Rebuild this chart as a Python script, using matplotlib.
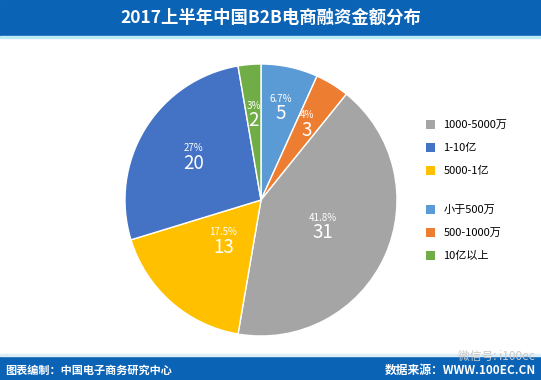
import numpy as np
import matplotlib
matplotlib.use("Agg")
import matplotlib.pyplot as plt
from matplotlib.patches import Rectangle

plt.rcParams['font.family'] = ['Noto Sans CJK SC', 'DejaVu Sans']

# 数据（顺时针，从12点方向开始）
categories = ['小于500万', '500-1000万', '1000-5000万', '5000-1亿', '1-10亿', '10亿以上']
counts = [5, 3, 31, 13, 20, 2]
pct_labels = ['6.7%', '4%', '41.8%', '17.5%', '27%', '3%']
colors = ['#5B9BD5', '#ED7D31', '#A5A5A5', '#FFC000', '#4472C4', '#70AD47']
label_r = [0.68, 0.64, 0.50, 0.42, 0.58, 0.62]
legend_order = [2, 4, 3, 0, 1, 5]

fig = plt.figure(figsize=(5.41, 3.80), dpi=100)

# 顶部标题栏
fig.patches.append(Rectangle((0, 1 - 36 / 380), 1, 36 / 380, transform=fig.transFigure,
                             color='#0B63B6', zorder=0))
fig.patches.append(Rectangle((0, 1 - 38 / 380), 1, 2 / 380, transform=fig.transFigure,
                             color='#BDEBF5', zorder=0))
fig.text(0.5, 1 - 18 / 380, '2017上半年中国B2B电商融资金额分布', color='white',
         fontsize=12.5, fontweight='bold', ha='center', va='center')

# 底部栏
fig.patches.append(Rectangle((0, 0), 1, 24 / 380, transform=fig.transFigure,
                             color='#0B63B6', zorder=0))
fig.patches.append(Rectangle((0, 24 / 380), 1, 2 / 380, transform=fig.transFigure,
                             color='#DDEEF8', zorder=0))
fig.text(5 / 541, 10 / 380, '图表编制：中国电子商务研究中心', color='white',
         fontsize=8, fontweight='bold', ha='left', va='center')
fig.text(536 / 541, 10 / 380, '数据来源：WWW.100EC.CN', color='white',
         fontsize=8.5, fontweight='bold', ha='right', va='center')
fig.text(535 / 541, 24 / 380, '微信号: i100ec', color='#C8C8C8',
         fontsize=8.5, ha='right', va='center')

# 饼图
ax = fig.add_axes([125 / 541, 44 / 380, 272 / 541, 272 / 380])
wedges, _ = ax.pie(counts, colors=colors, startangle=90, counterclock=False,
                   radius=1.0, wedgeprops=dict(edgecolor='white', linewidth=1))
ax.set_xlim(-1, 1)
ax.set_ylim(-1, 1)
ax.set_aspect('equal')

for w, n, p, r in zip(wedges, counts, pct_labels, label_r):
    ang = np.deg2rad((w.theta1 + w.theta2) / 2)
    x, y = r * np.cos(ang), r * np.sin(ang)
    ax.text(x, y + 0.04, p, color='white', fontsize=7, ha='center', va='bottom')
    ax.text(x, y + 0.045, str(n), color='white', fontsize=13.5, ha='center', va='top')

# 图例（两组）
h1 = [wedges[i] for i in legend_order[:3]]
l1 = [categories[i] for i in legend_order[:3]]
h2 = [wedges[i] for i in legend_order[3:]]
l2 = [categories[i] for i in legend_order[3:]]
kw = dict(frameon=False, fontsize=8, handlelength=0.85, handleheight=0.85,
          labelspacing=1.15, handletextpad=0.7, loc='upper left')
leg1 = fig.legend(h1, l1, bbox_to_anchor=(416 / 541, 1 - 110 / 380), **kw)
leg2 = fig.legend(h2, l2, bbox_to_anchor=(416 / 541, 1 - 195 / 380), **kw)
for leg in (leg1, leg2):
    for patch in leg.get_patches():
        patch.set_edgecolor('none')

fig.savefig('out.png', dpi=100)
